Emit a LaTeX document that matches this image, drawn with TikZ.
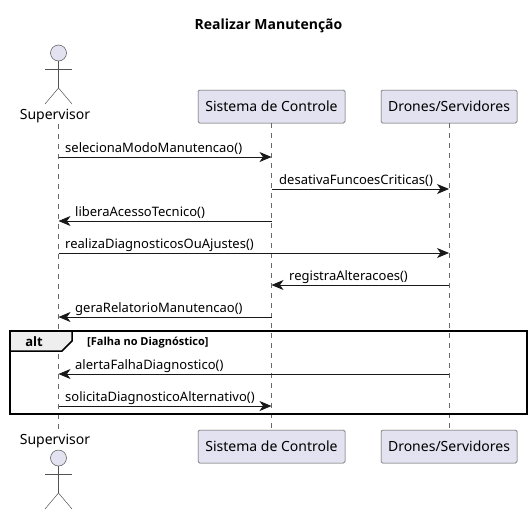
\documentclass[tikz,border=0pt]{standalone}
\usepackage{fontspec}
\setmainfont{Noto Sans}
\newfontfamily\boldsans{Open Sans}
\usepackage{tikz}
\usetikzlibrary{arrows.meta,calc,positioning}
\definecolor{lifecolor}{HTML}{181818}
\definecolor{boxcolor}{HTML}{E2E2F0}
\definecolor{tabcolor}{HTML}{EEEEEE}
\tikzset{
  participantbox/.style={draw=lifecolor!75, line width=0.5pt, fill=boxcolor, rounded corners=1.5pt, minimum height=33pt, inner xsep=0pt, inner ysep=0pt, font=\fontsize{14}{16}\selectfont},
  actorline/.style={draw=lifecolor!75, line width=0.5pt},
  actorhead/.style={draw=lifecolor!75, line width=0.5pt, fill=boxcolor},
  actorname/.style={inner sep=0pt, font=\fontsize{14}{16}\selectfont},
  lifeline/.style={draw=lifecolor!65, line width=0.5pt, dash pattern=on 5pt off 5pt},
  msg/.style={draw=lifecolor, line width=0.8pt, -{Stealth[length=12pt, width=10pt, inset=3.5pt]}},
  msglabel/.style={inner sep=0pt, anchor=base west, font=\fontsize{13}{15}\selectfont},
  frameline/.style={draw=black, line width=1.5pt}
}
\begin{document}
\begin{tikzpicture}[x=1pt, y=-1pt]
    \useasboundingbox (0,0) rectangle (532,514);
    \node [inner sep=0pt, font=\boldsans\bfseries\fontsize{14}{16}\selectfont] (title) at (268.5,26) {Realizar Manutenção};
    % participants, top and bottom
    \node [participantbox, minimum width=147pt] (controlTop) at (271.5,106.5) {Sistema de Controle};
    \node [participantbox, minimum width=136pt] (dronesTop) at (449,106.5) {Drones/Servidores};
    \node [participantbox, minimum width=147pt] (controlBot) at (271.5,446.5) {Sistema de Controle};
    \node [participantbox, minimum width=136pt] (dronesBot) at (449,446.5) {Drones/Servidores};
    \node [actorname] (supTop) at (55,116) {Supervisor};
    \node [actorname] (supBot) at (55,441) {Supervisor};
    \coordinate (supLifeTop) at (58.5,124);
    \coordinate (supLifeBot) at (58.5,430);
    % lifelines
    \draw [lifeline] (supLifeTop) -- (supLifeBot);
    \draw [lifeline] (controlTop.south) -- (controlBot.north);
    \draw [lifeline] (dronesTop.south) -- (dronesBot.north);
    % actors
    \foreach \y in {53,458} {
      \draw [actorhead] (58.5,\y) circle [radius=8];
      \draw [actorline] (58.5,\y+8) -- (58.5,\y+35) (45,\y+16) -- (72,\y+16);
      \draw [actorline] (45,\y+51) -- (58.5,\y+35) -- (72,\y+51);
    }
    % alt frame
    \fill [tabcolor] (10,331) -- (72,331) -- (72,341) -- (62,351) -- (10,351) -- cycle;
    \draw [frameline] (72,331) -- (72,341) -- (62,351) -- (10,351);
    \draw [frameline] (10,331) rectangle (527,414);
    \node [inner sep=0pt, anchor=base, font=\boldsans\bfseries\fontsize{13}{15}\selectfont] (altlabel) at (34,346) {alt};
    \node [inner sep=0pt, anchor=base west, font=\boldsans\bfseries\fontsize{11}{13}\selectfont] (guard) at (87,345) {[Falha no Diagnóstico]};
    % messages
    \foreach \n/\y/\from/\to/\lx/\txt in {
      a/157/supLifeTop/controlTop/65/selecionaModoManutencao(),
      b/189/controlTop/dronesTop/279/desativaFuncoesCriticas(),
      c/221/controlTop/supLifeTop/75/liberaAcessoTecnico(),
      d/253/supLifeTop/dronesTop/65/realizaDiagnosticosOuAjustes(),
      e/285/dronesTop/controlTop/289/registraAlteracoes(),
      f/317/controlTop/supLifeTop/75/geraRelatorioManutencao(),
      g/374/dronesTop/supLifeTop/75/alertaFalhaDiagnostico(),
      h/406/supLifeTop/controlTop/65/solicitaDiagnosticoAlternativo()} {
      \coordinate (\n Start) at (\from |- 0,\y);
      \coordinate (\n End) at (\to |- 0,\y);
      \draw [msg] (\n Start) -- (\n End);
      \node [msglabel] (\n Label) at (\lx,\y-5) {\txt};
    }
\end{tikzpicture}
\end{document}
